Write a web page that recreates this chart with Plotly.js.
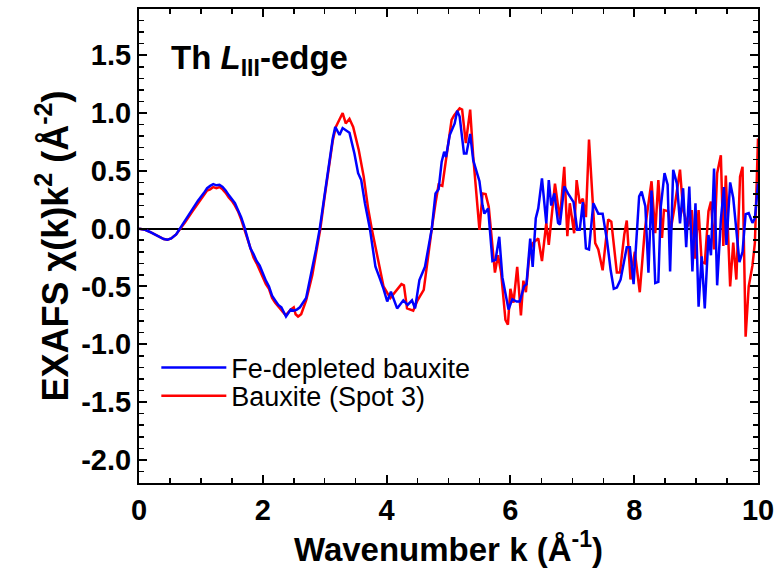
<!DOCTYPE html>
<html>
<head>
<meta charset="utf-8">
<script src="https://cdn.plot.ly/plotly-3.0.1.min.js"></script>
<style>html,body{margin:0;padding:0;background:#fff;}#chart{width:778px;height:570px;}</style>
</head>
<body>
<div id="chart"></div>
<script>
// Fe-depleted bauxite (blue)
const kBlue = [0.0,0.1,0.2,0.3,0.4,0.46,0.52,0.6,0.66,0.75,0.85,0.95,1.05,1.1,1.15,1.2,1.25,1.3,1.35,1.4,1.45,1.5,1.55,1.6,1.65,1.7,1.75,1.8,1.85,1.9,1.95,2.0,2.05,2.1,2.15,2.2,2.25,2.3,2.375,2.45,2.5,2.55,2.6,2.7,2.8,2.86,2.92,3.0,3.08,3.13,3.17,3.24,3.29,3.4,3.48,3.54,3.59,3.65,3.73,3.82,3.89,3.95,4.01,4.07,4.17,4.27,4.34,4.41,4.46,4.53,4.62,4.73,4.79,4.84,4.89,4.93,4.96,5.02,5.1,5.14,5.18,5.25,5.29,5.35,5.4,5.5,5.55,5.58,5.64,5.71,5.76,5.82,5.87,5.97,6.03,6.1,6.15,6.22,6.26,6.32,6.36,6.41,6.45,6.51,6.58,6.62,6.66,6.71,6.77,6.8,6.87,6.93,7.02,7.08,7.12,7.17,7.22,7.27,7.34,7.42,7.49,7.56,7.62,7.67,7.72,7.78,7.88,7.93,7.99,8.08,8.12,8.18,8.23,8.28,8.34,8.39,8.43,8.49,8.54,8.58,8.63,8.69,8.74,8.79,8.84,8.89,8.94,8.99,9.04,9.09,9.14,9.2,9.24,9.29,9.34,9.4,9.45,9.49,9.55,9.6,9.7,9.75,9.8,9.85,9.91,9.95,10.0];
const chiBlue = [0.0,-0.01,-0.035,-0.065,-0.09,-0.095,-0.085,-0.05,0.0,0.07,0.15,0.24,0.31,0.35,0.37,0.385,0.375,0.38,0.36,0.33,0.29,0.25,0.22,0.16,0.1,0.02,-0.08,-0.17,-0.22,-0.28,-0.32,-0.39,-0.45,-0.5,-0.58,-0.62,-0.66,-0.68,-0.76,-0.7,-0.71,-0.7,-0.68,-0.6,-0.35,-0.18,0.0,0.3,0.6,0.78,0.88,0.81,0.87,0.83,0.65,0.48,0.42,0.22,0.0,-0.33,-0.43,-0.52,-0.63,-0.545,-0.69,-0.62,-0.66,-0.62,-0.69,-0.445,-0.33,0.0,0.305,0.34,0.58,0.665,0.62,0.81,0.91,1.02,0.97,0.65,0.65,0.82,0.59,0.41,0.2,0.13,0.175,-0.28,-0.27,-0.07,-0.42,-0.7,-0.61,-0.63,-0.63,-0.5,-0.48,-0.085,-0.33,0.09,0.175,0.435,0.046,0.42,0.2,0.305,0.05,0.035,0.365,0.305,0.23,-0.01,-0.01,0.23,-0.17,-0.18,0.22,0.13,0.13,-0.1,-0.36,-0.52,-0.51,-0.44,-0.16,-0.16,-0.48,0.28,0.32,0.195,-0.38,0.33,-0.47,-0.46,0.19,0.48,0.38,-0.37,0.51,0.39,0.046,0.35,-0.16,0.365,-0.37,0.22,-0.675,-0.24,-0.69,-0.055,-0.23,0.52,-0.49,0.08,0.36,-0.14,0.4,0.265,-0.29,-0.2,0.125,0.135,0.05,0.09,0.39];

// Bauxite (Spot 3) (red)
const kRed = [0.0,0.1,0.2,0.3,0.4,0.46,0.52,0.6,0.67,0.75,0.85,0.95,1.05,1.1,1.15,1.2,1.25,1.3,1.35,1.4,1.45,1.5,1.55,1.6,1.65,1.7,1.75,1.8,1.85,1.9,1.95,2.0,2.05,2.1,2.15,2.2,2.25,2.3,2.37,2.45,2.5,2.53,2.57,2.62,2.7,2.8,2.87,2.93,3.0,3.08,3.13,3.18,3.24,3.29,3.34,3.4,3.46,3.55,3.63,3.7,3.76,3.84,3.95,4.06,4.13,4.24,4.28,4.33,4.43,4.5,4.6,4.68,4.73,4.79,4.84,4.9,4.96,5.05,5.09,5.18,5.22,5.28,5.35,5.4,5.5,5.55,5.6,5.65,5.75,5.8,5.85,5.92,5.96,6.0,6.05,6.11,6.17,6.21,6.25,6.31,6.36,6.45,6.51,6.58,6.62,6.72,6.8,6.87,6.92,6.96,7.03,7.07,7.12,7.17,7.22,7.27,7.37,7.42,7.49,7.58,7.63,7.72,7.77,7.84,7.88,7.94,8.01,8.09,8.17,8.28,8.34,8.39,8.45,8.48,8.55,8.59,8.65,8.74,8.79,8.87,8.93,8.98,9.04,9.09,9.14,9.2,9.24,9.29,9.34,9.4,9.44,9.48,9.55,9.6,9.65,9.71,9.75,9.8,9.85,9.91,9.95,10.0];
const chiRed = [0.0,-0.01,-0.035,-0.065,-0.09,-0.095,-0.085,-0.05,0.0,0.06,0.14,0.22,0.29,0.33,0.34,0.36,0.35,0.36,0.34,0.31,0.27,0.24,0.2,0.15,0.08,0.0,-0.1,-0.18,-0.25,-0.3,-0.36,-0.42,-0.48,-0.52,-0.6,-0.64,-0.67,-0.7,-0.75,-0.7,-0.68,-0.74,-0.76,-0.74,-0.62,-0.4,-0.2,0.0,0.28,0.58,0.76,0.88,0.94,1.0,0.91,0.95,0.88,0.68,0.45,0.18,0.0,-0.21,-0.5,-0.6,-0.55,-0.48,-0.49,-0.69,-0.71,-0.62,-0.53,-0.18,0.0,0.22,0.38,0.37,0.6,0.94,0.98,1.04,1.03,0.74,1.03,0.62,-0.01,0.305,0.3,0.19,-0.38,-0.23,-0.38,-0.79,-0.83,-0.52,-0.64,-0.33,-0.75,-0.45,-0.55,-0.21,-0.125,-0.085,-0.28,0.05,-0.14,0.39,0.08,0.535,-0.065,0.22,-0.04,0.42,0.22,0.26,0.1,0.77,-0.125,-0.18,-0.36,0.08,0.06,-0.38,-0.38,-0.05,0.07,-0.44,-0.2,-0.55,-0.02,0.41,-0.04,0.42,-0.08,0.16,0.15,-0.01,0.18,0.51,0.16,0.02,0.16,-0.26,0.16,-0.29,-0.3,0.15,0.235,-0.18,0.48,0.635,-0.15,0.46,-0.5,-0.12,-0.44,0.45,0.535,-0.935,-0.5,-0.32,-0.12,0.78];

const yTickVals = [-2.0,-1.5,-1.0,-0.5,0.0,0.5,1.0,1.5];
const yTickText = ['-2.0','-1.5','-1.0','-0.5','0.0','0.5','1.0','1.5'];
const xTickVals = [0,2,4,6,8,10];
const xTickText = ['0','2','4','6','8','10'];

const FONT = 'Liberation Sans, Arial, Helvetica, sans-serif';

const traces = [
  {x: kRed, y: chiRed, type: 'scatter', mode: 'lines', name: 'Bauxite (Spot 3)',
   legend: 'legend2', line: {color: '#ff0000', width: 2.5}},
  {x: kBlue, y: chiBlue, type: 'scatter', mode: 'lines', name: 'Fe-depleted bauxite',
   legend: 'legend', line: {color: '#0000ff', width: 2.5}}
];

const axisCommon = {
  showline: true, linecolor: '#000', linewidth: 2, mirror: 'allticks',
  ticks: 'inside', ticklen: 8, tickwidth: 2, tickcolor: '#000',
  showgrid: false, automargin: false,
  tickfont: {family: FONT, size: 29, color: '#000', weight: 'bold'}
};

const legendCommon = {
  xanchor: 'left', yanchor: 'middle', bgcolor: 'rgba(0,0,0,0)', borderwidth: 0, itemwidth: 65,
  font: {family: FONT, size: 27, color: '#000'}
};

const layout = {
  width: 778, height: 570,
  margin: {l: 139, r: 20, t: 9, b: 87},
  paper_bgcolor: '#fff', plot_bgcolor: '#fff',
  showlegend: true,
  legend: Object.assign({}, legendCommon, {x: 0.028, y: 0.2426}),
  legend2: Object.assign({}, legendCommon, {x: 0.028, y: 0.183}),
  xaxis: Object.assign({}, axisCommon, {
    range: [0, 10], tickvals: xTickVals, ticktext: xTickText, zeroline: false,
    minor: {dtick: 0.5, ticks: 'inside', ticklen: 5, tickwidth: 1.5, tickcolor: '#000', showgrid: false},
    title: {text: 'Wavenumber k (Å<sup>-1</sup>)', standoff: 6,
            font: {family: FONT, size: 33, color: '#000', weight: 'bold'}}
  }),
  yaxis: Object.assign({}, axisCommon, {
    range: [-2.2, 1.9], tickvals: yTickVals, ticktext: yTickText,
    zeroline: true, zerolinecolor: '#000', zerolinewidth: 2,
    minor: {dtick: 0.1, ticks: 'inside', ticklen: 5, tickwidth: 1.5, tickcolor: '#000', showgrid: false},
    title: {text: 'EXAFS χ(k)k<sup>2</sup> (Å<sup>-2</sup>)', standoff: 2,
            font: {family: FONT, size: 36, color: '#000', weight: 'bold'}}
  }),
  annotations: [{
    xref: 'paper', yref: 'paper', x: 0.049, y: 0.893, xanchor: 'left', yanchor: 'middle',
    text: 'Th <i>L</i><sub>III</sub>-edge', showarrow: false,
    font: {family: FONT, size: 33, color: '#000', weight: 'bold'}
  }]
};

Plotly.newPlot('chart', traces, layout, {displayModeBar: false, staticPlot: true});
</script>
</body>
</html>
